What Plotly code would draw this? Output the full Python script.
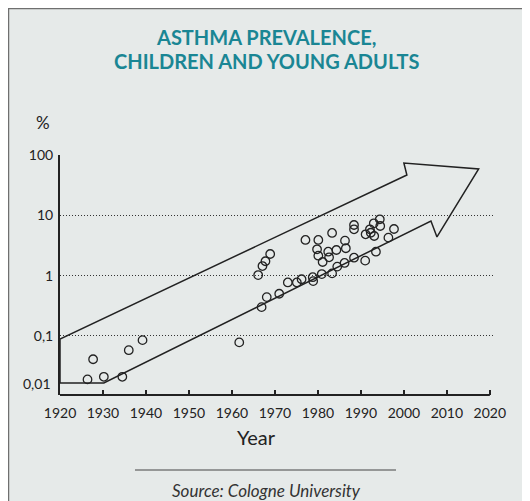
import plotly.graph_objects as go

# ---- data ----
years = [1926.4, 1927.7, 1930.2, 1934.5, 1936.0, 1939.2, 1961.7,
         1966.1, 1967.1, 1967.8, 1968.9, 1966.9, 1968.1, 1971.0,
         1973.0, 1975.1, 1976.2, 1977.1, 1978.8, 1978.9, 1980.1,
         1979.8, 1980.1, 1980.9, 1981.1, 1982.4, 1982.6, 1983.3,
         1983.3, 1984.3, 1984.5, 1986.2, 1986.3, 1986.5, 1988.4,
         1988.4, 1988.4, 1991.0, 1991.1, 1992.1, 1992.3, 1993.0,
         1993.1, 1993.5, 1994.4, 1994.5, 1996.4, 1997.7]
prevalence = [0.019, 0.041, 0.021, 0.021, 0.058, 0.085, 0.078,
              1.02, 1.44, 1.73, 2.28, 0.30, 0.44, 0.50,
              0.77, 0.77, 0.87, 3.9, 0.94, 0.81, 3.9,
              2.73, 2.14, 1.06, 1.68, 2.49, 2.01, 5.1,
              1.09, 2.66, 1.41, 1.62, 3.8, 2.84, 6.9,
              5.86, 1.98, 1.77, 4.84, 5.86, 5.14, 7.36,
              4.54, 2.49, 8.59, 6.65, 4.26, 5.93]

# trend arrow outline (year, %)
arrow_years = [1920, 2000.7, 2000.0, 2017.4, 2007.7, 2006.3, 1930.2, 1920, 1920]
arrow_values = [0.089, 46.6, 73.7, 58.6, 4.37, 8.04, 0.0166, 0.0166, 0.089]

x_ticks = list(range(1920, 2021, 10))
y_ticks = [0.1, 1, 10, 100]
y_ticktext = ["0,1", "1", "10", "100"]
lowest_label = "0,01"

title_line1 = "ASTHMA PREVALENCE,"
title_line2 = "CHILDREN AND YOUNG ADULTS"
x_title = "Year"
y_unit = "%"
source_text = "Source: Cologne University"

FONT = "Lato, 'Open Sans', sans-serif"
INK = "#222222"
BG = "#e6eae9"
TEAL = "#1a8694"

fig = go.Figure()

fig.add_trace(go.Scatter(
    x=arrow_years, y=arrow_values, mode="lines",
    line=dict(color=INK, width=1.5), hoverinfo="skip", showlegend=False))

fig.add_trace(go.Scatter(
    x=years, y=prevalence, mode="markers",
    marker=dict(symbol="circle-open", size=8.5, color=INK,
                line=dict(width=1.3, color=INK)),
    showlegend=False))

shapes = [
    # panel background with left/top border
    dict(type="rect", xref="paper", yref="paper",
         x0=-0.1184, x1=1.2, y0=-0.6, y1=1.6104,
         fillcolor=BG, line=dict(color="#6f6f6f", width=1.5), layer="below"),
    # x axis line (1920-2020)
    dict(type="line", xref="x", yref="paper", x0=1920, x1=2020, y0=0, y1=0,
         line=dict(color=INK, width=2)),
    # separator above source
    dict(type="line", xref="paper", yref="paper", x0=0.1724, x1=0.7724,
         y0=-0.3125, y1=-0.3125, line=dict(color="#444444", width=1)),
]

annotations = [
    dict(text="<b>" + title_line1 + "</b>", xref="paper", yref="paper",
         x=0.4736, y=1.4896, xanchor="center", yanchor="middle",
         showarrow=False, font=dict(family=FONT, size=20, color=TEAL)),
    dict(text="<b>" + title_line2 + "</b>", xref="paper", yref="paper",
         x=0.4736, y=1.3917, xanchor="center", yanchor="middle",
         showarrow=False, font=dict(family=FONT, size=20, color=TEAL)),
    dict(text=y_unit, xref="paper", yref="paper", x=-0.039, y=1.1375,
         xanchor="center", yanchor="middle", showarrow=False,
         font=dict(family=FONT, size=17, color=INK)),
    dict(text=lowest_label, xref="paper", yref="paper", x=-0.016, y=0.05,
         xanchor="right", yanchor="middle", showarrow=False,
         font=dict(family=FONT, size=14, color=INK)),
    dict(text=x_title, xref="paper", yref="paper", x=0.4506, y=-0.175,
         xanchor="center", yanchor="middle", showarrow=False,
         font=dict(family=FONT, size=20, color=INK)),
    dict(text="<i>" + source_text + "</i>", xref="paper", yref="paper",
         x=0.4736, y=-0.396, xanchor="center", yanchor="middle",
         showarrow=False, font=dict(family=FONT, size=17, color="#333333")),
]

fig.update_layout(
    width=522, height=493,
    margin=dict(l=52, r=35, t=147, b=106, pad=0),
    paper_bgcolor=BG, plot_bgcolor="rgba(0,0,0,0)",
    font=dict(family=FONT, color=INK, size=14),
    shapes=shapes, annotations=annotations,
    xaxis=dict(range=[1920, 2021.2], tickvals=x_ticks, ticks="inside",
               ticklen=5, tickwidth=1.5, tickcolor=INK, showgrid=False,
               showline=False, zeroline=False, tickfont=dict(size=14),
               ticklabelstandoff=8),
    yaxis=dict(type="log", range=[-1.98, 2], tickvals=y_ticks,
               ticktext=y_ticktext, showgrid=True, gridcolor="#333333",
               griddash="1px,2px", gridwidth=1, showline=True,
               linecolor=INK, linewidth=2, ticks="", zeroline=False,
               tickfont=dict(size=14), ticklabelstandoff=2),
)

fig.write_html("out.html")
